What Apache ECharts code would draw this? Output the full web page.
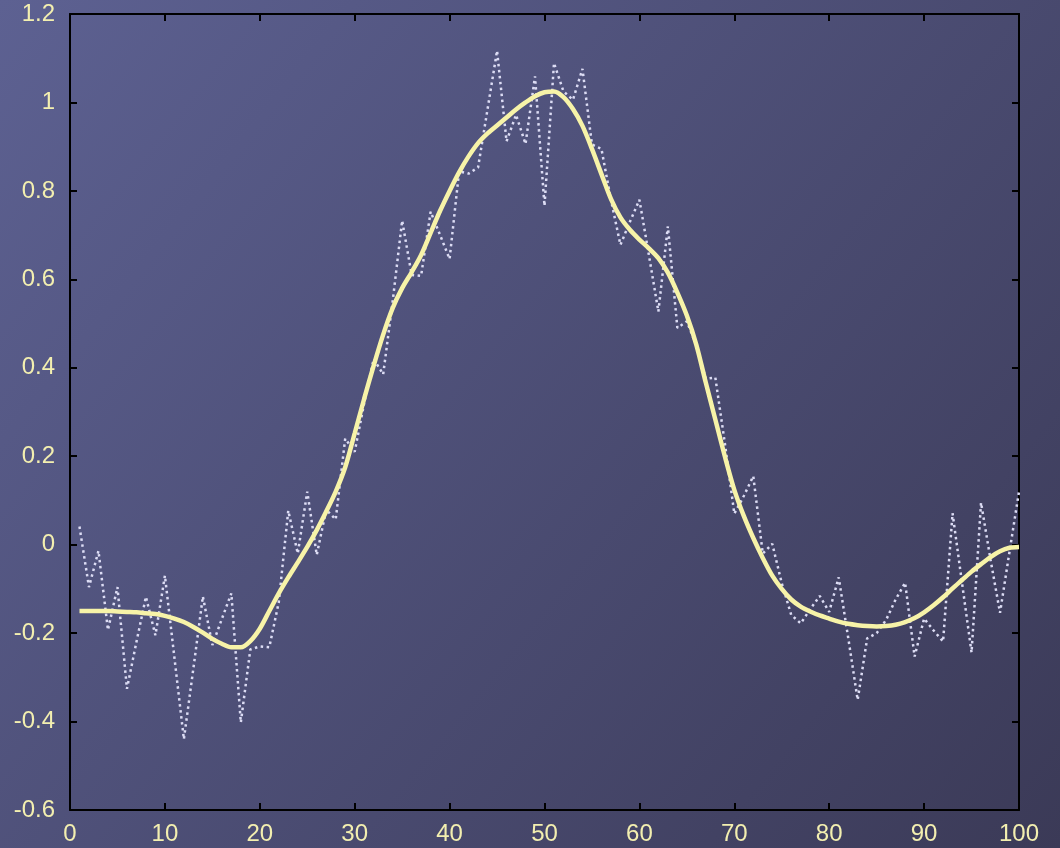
<!DOCTYPE html>
<html>
<head>
<meta charset="utf-8">
<script src="https://cdn.jsdelivr.net/npm/echarts@6/dist/echarts.min.js"></script>
<style>
html,body{margin:0;padding:0;width:1060px;height:848px;overflow:hidden;}
#chart{width:1060px;height:848px;}
</style>
</head>
<body>
<div id="chart"></div>
<script>
// x positions 1..100
const xStart = 1, xCount = 100;
// noisy measurements (dotted line)
const noisy = [
  0.041,-0.096,-0.014,-0.193,-0.096,-0.326,-0.22,-0.118,-0.205,-0.07,
  -0.255,-0.44,-0.28,-0.117,-0.227,-0.168,-0.11,-0.402,-0.237,-0.23,
  -0.232,-0.13,0.077,-0.02,0.12,-0.023,0.079,0.057,0.24,0.21,
  0.32,0.42,0.385,0.55,0.733,0.61,0.608,0.753,0.70,0.646,
  0.844,0.839,0.853,0.985,1.117,0.912,0.972,0.906,1.059,0.766,
  1.089,1.025,1.006,1.076,0.905,0.895,0.78,0.678,0.73,0.78,
  0.655,0.527,0.72,0.49,0.505,0.45,0.375,0.378,0.23,0.07,
  0.11,0.155,-0.02,0.002,-0.087,-0.159,-0.178,-0.146,-0.116,-0.152,
  -0.074,-0.21,-0.351,-0.212,-0.20,-0.17,-0.124,-0.086,-0.253,-0.167,
  -0.194,-0.219,0.071,-0.087,-0.244,0.095,-0.034,-0.154,-0.016,0.12
];
// smoothed curve (solid yellow line)
const smooth = [
  -0.150,-0.150,-0.150,-0.150,-0.151,-0.152,-0.153,-0.155,-0.157,-0.161,
  -0.167,-0.175,-0.186,-0.199,-0.213,-0.224,-0.232,-0.232,-0.218,-0.190,
  -0.150,-0.110,-0.074,-0.040,-0.005,0.033,0.075,0.120,0.175,0.252,
  0.330,0.405,0.475,0.535,0.580,0.616,0.655,0.705,0.755,0.800,
  0.842,0.878,0.908,0.930,0.948,0.966,0.984,1.000,1.014,1.023,
  1.025,1.012,0.985,0.947,0.895,0.838,0.782,0.740,0.712,0.690,
  0.670,0.648,0.615,0.570,0.518,0.452,0.366,0.283,0.200,0.124,
  0.065,0.015,-0.030,-0.070,-0.100,-0.124,-0.140,-0.151,-0.160,-0.167,
  -0.174,-0.179,-0.182,-0.184,-0.185,-0.184,-0.181,-0.175,-0.166,-0.153,
  -0.137,-0.119,-0.099,-0.080,-0.061,-0.044,-0.028,-0.015,-0.007,-0.005
];
const xTicks = {min: 0, max: 100, interval: 10};
const yTicks = {min: -0.6, max: 1.2, interval: 0.2};

const xs = [];
for (let i = 0; i < xCount; i++) xs.push(xStart + i);
const noisyData = xs.map((x, i) => [x, noisy[i]]);
const smoothData = xs.map((x, i) => [x, smooth[i]]);

const labelColor = '#f3efb0';
const axisLineStyle = {color: '#000', width: 2};
const labelFont = {color: labelColor, fontSize: 24, fontFamily: 'Liberation Sans, Arial, sans-serif'};
function fmt(v){ return String(Math.round(v*10)/10); }

const chart = echarts.init(document.getElementById('chart'), null, {renderer: 'canvas'});
chart.setOption({
  backgroundColor: new echarts.graphic.LinearGradient(0, 0, 1, 1, [
    {offset: 0, color: '#5d6192'},
    {offset: 1, color: '#3b3a57'}
  ]),
  animation: false,
  grid: {left: 70, right: 41, top: 14, bottom: 38, containLabel: false},
  xAxis: [
    {type: 'value', min: xTicks.min, max: xTicks.max, interval: xTicks.interval, position: 'bottom',
     axisLine: {show: true, onZero: false, lineStyle: axisLineStyle},
     axisTick: {show: true, inside: true, length: 7, lineStyle: axisLineStyle},
     axisLabel: Object.assign({margin: 12, formatter: fmt}, labelFont),
     splitLine: {show: false}},
    {type: 'value', min: xTicks.min, max: xTicks.max, interval: xTicks.interval, position: 'top',
     axisLine: {show: true, onZero: false, lineStyle: axisLineStyle},
     axisTick: {show: true, inside: true, length: 7, lineStyle: axisLineStyle},
     axisLabel: {show: false}, splitLine: {show: false}}
  ],
  yAxis: [
    {type: 'value', min: yTicks.min, max: yTicks.max, interval: yTicks.interval, position: 'left',
     axisLine: {show: true, onZero: false, lineStyle: axisLineStyle},
     axisTick: {show: true, inside: true, length: 7, lineStyle: axisLineStyle},
     axisLabel: Object.assign({margin: 15, formatter: fmt}, labelFont),
     splitLine: {show: false}},
    {type: 'value', min: yTicks.min, max: yTicks.max, interval: yTicks.interval, position: 'right',
     axisLine: {show: true, onZero: false, lineStyle: axisLineStyle},
     axisTick: {show: true, inside: true, length: 7, lineStyle: axisLineStyle},
     axisLabel: {show: false}, splitLine: {show: false}}
  ],
  series: [
    {type: 'line', data: noisyData, showSymbol: false, symbol: 'none',
     lineStyle: {color: '#dcdcf4', width: 2.5, type: [2.5, 3.5]}, z: 2},
    {type: 'line', data: smoothData, showSymbol: false, symbol: 'none', smooth: 0.3,
     lineStyle: {color: '#f7f3a8', width: 4.5}, z: 3}
  ]
});
</script>
</body>
</html>
